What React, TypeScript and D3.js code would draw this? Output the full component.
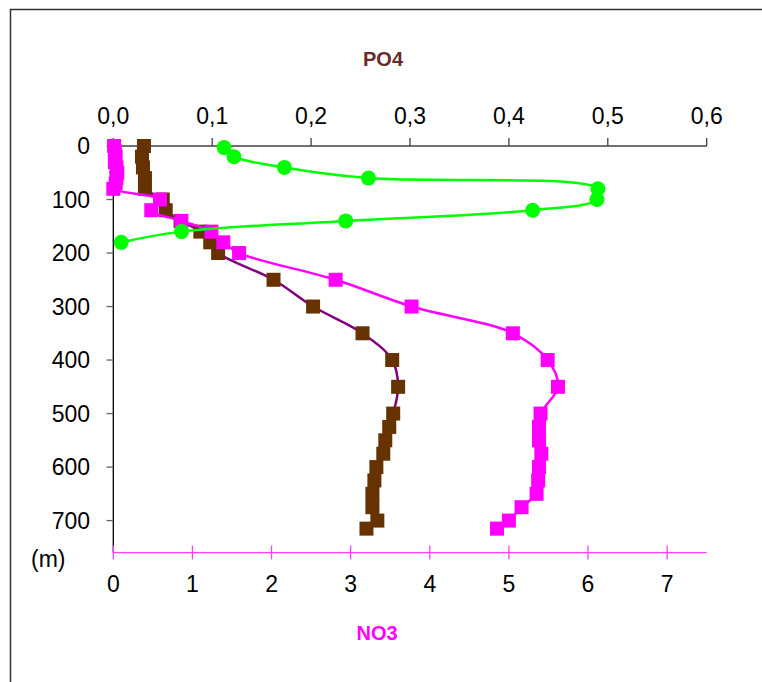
import React from 'react';
import * as d3 from 'd3';

// depth profiles
const greenDepth = [3, 20, 40, 60, 80, 100, 120, 140, 160, 180];
const greenPO4 = [0.112, 0.122, 0.173, 0.258, 0.49, 0.489, 0.424, 0.235, 0.069, 0.008];

const brownDepth = [0, 20, 40, 60, 80, 100, 120, 140, 160, 180, 200, 250, 300, 350, 400, 450, 500, 525, 550, 575, 600, 625, 650, 675, 700, 715];
const brownPO4 = [0.031, 0.029, 0.030, 0.032, 0.032, 0.050, 0.053, 0.068, 0.088, 0.098, 0.106, 0.162, 0.202, 0.252, 0.282, 0.288, 0.283, 0.279, 0.275, 0.273, 0.266, 0.264, 0.262, 0.262, 0.267, 0.256];

const magentaDepth = [0, 10, 20, 30, 40, 50, 60, 70, 80, 100, 120, 140, 160, 180, 200, 250, 300, 350, 400, 450, 500, 525, 550, 575, 600, 625, 650, 675, 700, 715];
const magentaNO3 = [0.01, 0.02, 0.03, 0.02, 0.04, 0.05, 0.04, 0.03, 0.0, 0.59, 0.48, 0.86, 1.24, 1.39, 1.59, 2.81, 3.77, 5.05, 5.49, 5.62, 5.40, 5.38, 5.38, 5.41, 5.38, 5.37, 5.35, 5.16, 5.00, 4.85];

const po4Ticks = [0, 0.1, 0.2, 0.3, 0.4, 0.5, 0.6];
const no3Ticks = [0, 1, 2, 3, 4, 5, 6, 7];
const depthTicks = [0, 100, 200, 300, 400, 500, 600, 700];

const font = "'Liberation Sans', Arial, sans-serif";
const commaFmt = d3.formatLocale({decimal: ',', thousands: '.', grouping: [3], currency: ['', '']}).format('.1f');

export default function App() {
  const xTop = d3.scaleLinear().domain([0, 0.6]).range([113.3, 706.7]);
  const xBot = d3.scaleLinear().domain([0, 7.5]).range([113.3, 706.7]);
  const y = d3.scaleLinear().domain([0, 760]).range([146, 552.7]);

  const line = d3.line<[number, number]>()
    .x(d => d[0])
    .y(d => d[1])
    .curve(d3.curveCatmullRom.alpha(0.5));

  const green: [number, number][] = greenDepth.map((d, i) => [xTop(greenPO4[i]), y(d)]);
  const brown: [number, number][] = brownDepth.map((d, i) => [xTop(brownPO4[i]), y(d)]);
  const magenta: [number, number][] = magentaDepth.map((d, i) => [xBot(magentaNO3[i]), y(d)]);

  const sq = 14;

  return (
    <svg width={762} height={682} style={{position: 'absolute', left: 0, top: 0, background: '#fff'}}>
      <rect x={0} y={0} width={762} height={682} fill="#fff" />
      {/* outer frame */}
      <path d="M10.5,690 V9.5 H770" fill="none" stroke="#333" strokeWidth={1.5} />

      <text x={383} y={66} textAnchor="middle" fontFamily={font} fontWeight="bold" fontSize={20} fill="#6b2a2a">PO4</text>
      <text x={377} y={640} textAnchor="middle" fontFamily={font} fontWeight="bold" fontSize={20} fill="#ff00ff">NO3</text>

      {/* top axis */}
      <line x1={xTop(0)} x2={xTop(0.6)} y1={146} y2={146} stroke="#404040" strokeWidth={1.3} />
      {po4Ticks.map(t => (
        <g key={'t' + t}>
          <line x1={xTop(t)} x2={xTop(t)} y1={138} y2={146} stroke="#404040" strokeWidth={1.3} />
          <text x={xTop(t)} y={124} textAnchor="middle" fontFamily={font} fontSize={23} fill="#000">{commaFmt(t)}</text>
        </g>
      ))}

      {/* left axis */}
      <line x1={113.3} x2={113.3} y1={146} y2={552.7} stroke="#000" strokeWidth={1.3} />
      {depthTicks.map(t => (
        <g key={'d' + t}>
          <line x1={106.5} x2={113.3} y1={y(t)} y2={y(t)} stroke="#666" strokeWidth={1.3} />
          <text x={90} y={y(t) + 8.3} textAnchor="end" fontFamily={font} fontSize={23} fill="#000">{t}</text>
        </g>
      ))}
      <text x={31} y={567} fontFamily={font} fontSize={23} fill="#000">(m)</text>

      {/* bottom axis */}
      <line x1={xBot(0)} x2={xBot(7.5)} y1={552.7} y2={552.7} stroke="#ff40ff" strokeWidth={1.3} />
      {no3Ticks.map(t => (
        <g key={'b' + t}>
          <line x1={xBot(t)} x2={xBot(t)} y1={545.5} y2={559.5} stroke="#ff40ff" strokeWidth={1.3} />
          <text x={xBot(t)} y={592} textAnchor="middle" fontFamily={font} fontSize={23} fill="#000">{t}</text>
        </g>
      ))}

      {/* brown profile */}
      <path d={line(brown) ?? ''} fill="none" stroke="#800080" strokeWidth={2.5} />
      {brown.map((p, i) => (
        <rect key={'br' + i} x={p[0] - sq / 2} y={p[1] - sq / 2} width={sq} height={sq} fill="#663300" />
      ))}

      {/* magenta profile */}
      <path d={line(magenta) ?? ''} fill="none" stroke="#ff00ff" strokeWidth={2.5} />
      {magenta.map((p, i) => (
        <rect key={'mg' + i} x={p[0] - sq / 2} y={p[1] - sq / 2} width={sq} height={sq} fill="#ff00ff" />
      ))}

      {/* green profile */}
      <path d={line(green) ?? ''} fill="none" stroke="#00ff00" strokeWidth={2.5} />
      {green.map((p, i) => (
        <circle key={'gr' + i} cx={p[0]} cy={p[1]} r={7.5} fill="#00ff00" />
      ))}
    </svg>
  );
}
